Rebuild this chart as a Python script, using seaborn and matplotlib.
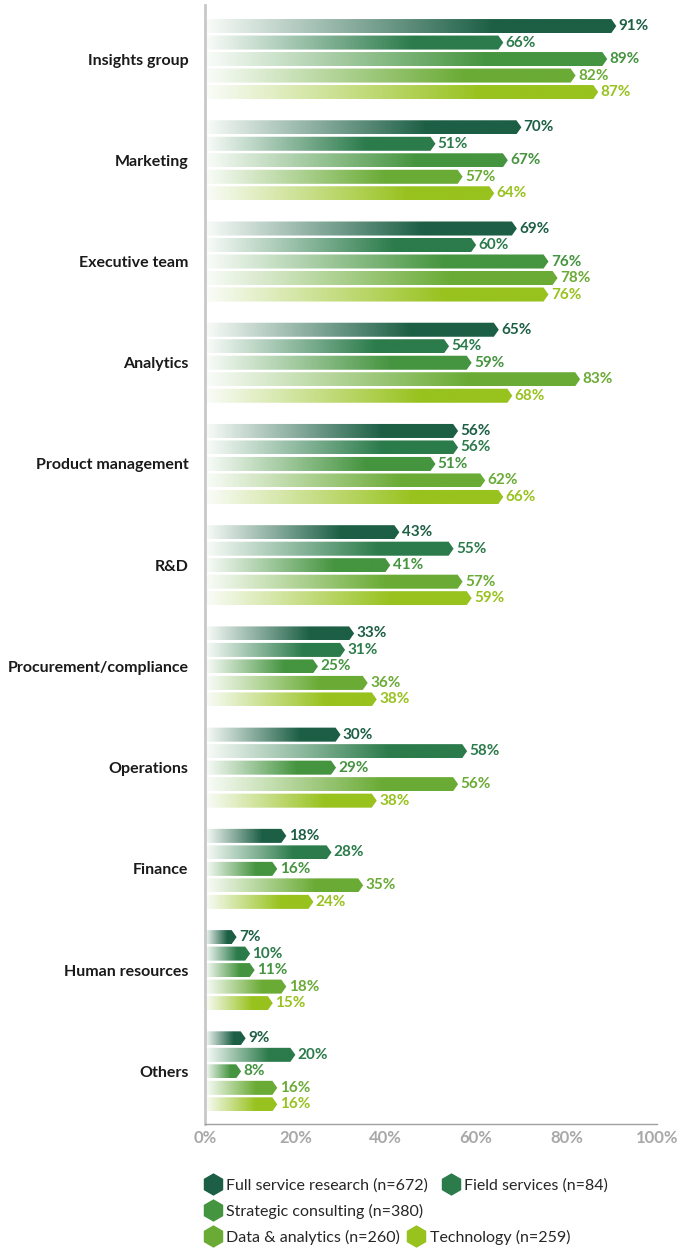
import numpy as np
import pandas as pd
import matplotlib
matplotlib.use("Agg")
import matplotlib.pyplot as plt
import seaborn as sns
from matplotlib.patches import Polygon
from matplotlib.lines import Line2D
from matplotlib.colors import to_rgb

# data
categories = ["Insights group", "Marketing", "Executive team", "Analytics",
              "Product management", "R&D", "Procurement/compliance",
              "Operations", "Finance", "Human resources", "Others"]
series = ["Full service research (n=672)", "Field services (n=84)",
          "Strategic consulting (n=380)", "Data & analytics (n=260)",
          "Technology (n=259)"]
full_service = [91, 70, 69, 65, 56, 43, 33, 30, 18, 7, 9]
field_services = [66, 51, 60, 54, 56, 55, 31, 58, 28, 10, 20]
strategic = [89, 67, 76, 59, 51, 41, 25, 29, 16, 11, 8]
data_analytics = [82, 57, 78, 83, 62, 57, 36, 56, 35, 18, 16]
technology = [87, 64, 76, 68, 66, 59, 38, 38, 24, 15, 16]
colors = ["#1c5f45", "#2b7b4b", "#45943f", "#6aab35", "#98c21e"]
x_ticks = [0, 20, 40, 60, 80, 100]

values = [full_service, field_services, strategic, data_analytics, technology]
df = pd.DataFrame({
    "category": np.tile(categories, len(series)),
    "series": np.repeat(series, len(categories)),
    "value": np.concatenate(values),
})

sns.set_style("white")
plt.rcParams["font.family"] = ["Lato", "DejaVu Sans"]

fig = plt.figure(figsize=(6.92, 12.49), dpi=100)
ax = fig.add_axes([0.2962, 0.1001, 0.6532, 0.8959])

sns.barplot(data=df, y="category", x="value", hue="series", orient="h",
            order=categories, hue_order=series, palette=colors,
            width=0.815, gap=0.15, legend=False, ax=ax)

ax.set_xlim(0, 100)
ax.set_ylim(10.52, -0.534)

# replace the plain bars with gradient arrows
tip = 1.1
for color, container in zip(colors, ax.containers):
    rgb = np.array(to_rgb(color))
    for bar in container:
        x0, y0 = bar.get_x(), bar.get_y()
        w, h = bar.get_width(), bar.get_height()
        bar.set_visible(False)
        t = np.clip(np.linspace(0, 1, 256) / 0.7, 0, 1)[:, None]
        grad = (1 - t) * np.array([0.98, 0.99, 0.98]) + t * rgb
        img = grad[None, :, :]
        poly = Polygon([(x0, y0), (x0 + w - tip, y0), (x0 + w, y0 + h / 2),
                        (x0 + w - tip, y0 + h), (x0, y0 + h)],
                       closed=True, facecolor="none", edgecolor="none",
                       transform=ax.transData)
        ax.add_patch(poly)
        im = ax.imshow(img, extent=(x0, x0 + w, y0 + h, y0), aspect="auto",
                       interpolation="bilinear", zorder=2)
        im.set_clip_path(poly)
        ax.text(x0 + w + 0.5, y0 + h / 2, f"{w:.0f}%", va="center",
                ha="left", color=color, fontsize=11, fontweight="bold")

ax.set_xlim(0, 100)
ax.set_ylim(10.52, -0.534)
ax.set_xticks(x_ticks)
ax.set_xticklabels([f"{v}%" for v in x_ticks], color="#a8a8a8",
                   fontsize=12, fontweight="bold")
ax.set_yticks(range(len(categories)))
ax.set_yticklabels(categories, fontsize=11.5, fontweight="bold", color="#1a1a1a")
ax.tick_params(axis="y", length=0, pad=12)
ax.tick_params(axis="x", length=0, pad=4)
ax.set_xlabel("")
ax.set_ylabel("")
for side in ["top", "right"]:
    ax.spines[side].set_visible(False)
ax.spines["left"].set_color("#c8c8c8")
ax.spines["left"].set_linewidth(2)
ax.spines["bottom"].set_color("#a0a0a0")
ax.spines["bottom"].set_linewidth(1)

# legend laid out as in the reference: three rows
legend_spots = [(0.296, 0.0512), (0.640, 0.0512), (0.296, 0.0304),
                (0.296, 0.0096), (0.590, 0.0096)]
for name, color, (lx, ly) in zip(series, colors, legend_spots):
    handle = Line2D([], [], marker="h", linestyle="none", markersize=15,
                    markerfacecolor=color, markeredgecolor=color)
    fig.legend(handles=[handle], labels=[name], loc="center left",
               bbox_to_anchor=(lx, ly), frameon=False, fontsize=11.5,
               handlelength=1.0, handletextpad=0.35, borderpad=0,
               borderaxespad=0)

fig.savefig("out.png", dpi=100)
